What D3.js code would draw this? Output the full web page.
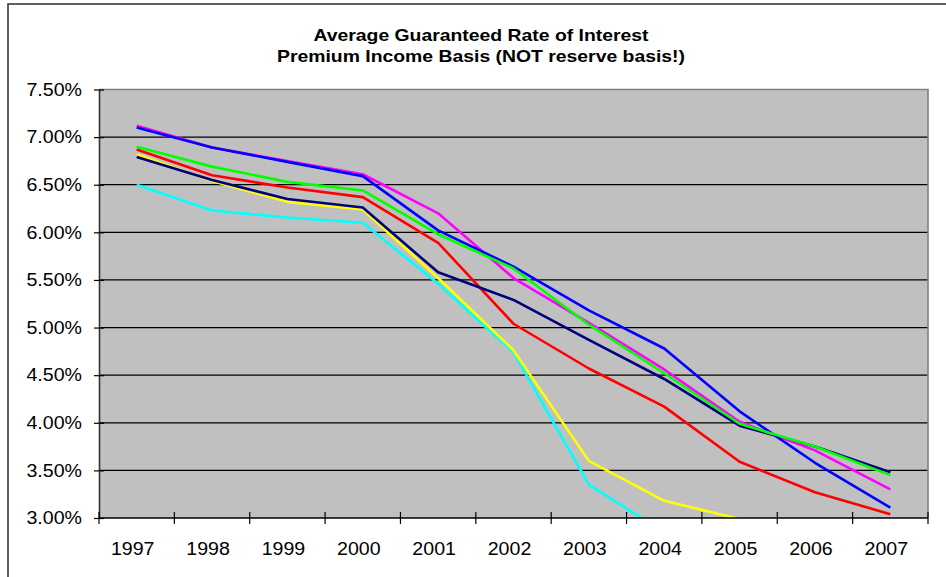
<!DOCTYPE html>
<html>
<head>
<meta charset="utf-8">
<script src="https://cdn.jsdelivr.net/npm/d3@7"></script>
<style>
  html, body { margin: 0; padding: 0; background: #fff; }
  svg { display: block; }
  text { font-family: "Liberation Sans", Arial, sans-serif; fill: #000; }
</style>
</head>
<body>
<svg id="chart" width="946" height="577"></svg>
<script>
// Guaranteed rate of interest by year, one array per company line (percent)
const years = ["1997","1998","1999","2000","2001","2002","2003","2004","2005","2006","2007"];
const yTicks = [3.0, 3.5, 4.0, 4.5, 5.0, 5.5, 6.0, 6.5, 7.0, 7.5];
const titleLines = ["Average Guaranteed Rate of Interest", "Premium Income Basis (NOT reserve basis!)"];

const cyanRates    = [6.50, 6.23, 6.155, 6.10, 5.46, 4.74, 3.35, 2.85];
const yellowRates  = [6.82, 6.54, 6.32, 6.24, 5.52, 4.76, 3.60, 3.18, 2.99];
const redRates     = [6.87, 6.60, 6.47, 6.37, 5.89, 5.04, 4.57, 4.17, 3.59, 3.27, 3.04];
const navyRates    = [6.79, 6.55, 6.35, 6.26, 5.58, 5.29, 4.87, 4.46, 3.97, 3.75, 3.48];
const magentaRates = [7.12, 6.89, 6.75, 6.61, 6.20, 5.52, 5.05, 4.56, 4.01, 3.71, 3.30];
const blueRates    = [7.10, 6.89, 6.74, 6.59, 6.02, 5.64, 5.18, 4.78, 4.12, 3.58, 3.11];
const greenRates   = [6.90, 6.69, 6.53, 6.44, 5.98, 5.62, 5.03, 4.52, 3.99, 3.75, 3.45];

// drawn in this order, later lines on top
const series = [
  { values: cyanRates,    color: "#00FFFF" },
  { values: yellowRates,  color: "#FFFF00" },
  { values: redRates,     color: "#FF0000" },
  { values: navyRates,    color: "#000080" },
  { values: magentaRates, color: "#FF00FF" },
  { values: blueRates,    color: "#0000FF" },
  { values: greenRates,   color: "#00FF00" }
];

const svg = d3.select("#chart");
const plot = { left: 99, right: 928, top: 89.5, bottom: 518 };
const textScale = 1.12;

// outer chart frame (runs past the right and bottom edges)
svg.append("rect")
  .attr("x", 8).attr("y", 4).attr("width", 980).attr("height", 620)
  .attr("fill", "#fff").attr("stroke", "#3a3a3a").attr("stroke-width", 1.6);

const x = d3.scaleBand().domain(years).range([plot.left, plot.right]).padding(0);
const y = d3.scaleLinear().domain([3.0, 7.5]).range([plot.bottom, plot.top]);

// plot area background
svg.append("rect")
  .attr("x", plot.left).attr("y", plot.top)
  .attr("width", plot.right - plot.left).attr("height", plot.bottom - plot.top)
  .attr("fill", "#C0C0C0");

// horizontal gridlines
svg.append("g").selectAll("line")
  .data(yTicks.filter(t => t > 3.0 && t < 7.5))
  .join("line")
  .attr("x1", plot.left).attr("x2", plot.right)
  .attr("y1", d => y(d)).attr("y2", d => y(d))
  .attr("stroke", "#000").attr("stroke-width", 1.2);

// plot area border: top and right
svg.append("path")
  .attr("d", `M${plot.left},${plot.top}H${plot.right}V${plot.bottom}`)
  .attr("fill", "none").attr("stroke", "#808080").attr("stroke-width", 1.6);

// data lines, clipped to the plot area
svg.append("clipPath").attr("id", "plotClip")
  .append("rect")
  .attr("x", plot.left).attr("y", plot.top)
  .attr("width", plot.right - plot.left).attr("height", plot.bottom - plot.top);

const line = d3.line()
  .x((d, i) => x(years[i]) + x.bandwidth() / 2)
  .y(d => y(d));

svg.append("g").attr("clip-path", "url(#plotClip)")
  .selectAll("path")
  .data(series)
  .join("path")
  .attr("d", s => line(s.values))
  .attr("fill", "none")
  .attr("stroke", s => s.color)
  .attr("stroke-width", 2.6)
  .attr("stroke-linejoin", "round");

// y axis
const yAxis = svg.append("g")
  .attr("transform", `translate(${plot.left},0)`)
  .call(d3.axisLeft(y).tickValues(yTicks).tickSize(5).tickSizeOuter(0).tickFormat(() => ""));
yAxis.select(".domain").attr("stroke", "#333").attr("stroke-width", 1.6);
yAxis.selectAll(".tick line").attr("stroke", "#000").attr("x1", 5).attr("stroke-width", 1.2);

svg.append("g").selectAll("text")
  .data(yTicks)
  .join("text")
  .attr("transform", d => `translate(82,${y(d) + 6.3}) scale(${textScale},1)`)
  .attr("text-anchor", "end")
  .attr("font-size", "17.5px")
  .text(d => d3.format(".2f")(d) + "%");

// x axis with ticks between categories
const bounds = d3.range(years.length + 1).map(i => plot.left + i * x.step());
svg.append("line")
  .attr("x1", plot.left).attr("x2", plot.right)
  .attr("y1", plot.bottom).attr("y2", plot.bottom)
  .attr("stroke", "#000").attr("stroke-width", 1.6);
svg.append("g").selectAll("line")
  .data(bounds)
  .join("line")
  .attr("x1", d => d).attr("x2", d => d)
  .attr("y1", plot.bottom - 6).attr("y2", plot.bottom + 6)
  .attr("stroke", "#000").attr("stroke-width", 1.2);

svg.append("g").selectAll("text")
  .data(years)
  .join("text")
  .attr("transform", d => `translate(${x(d) + x.bandwidth() / 2 - 4},554.5) scale(${textScale},1)`)
  .attr("text-anchor", "middle")
  .attr("font-size", "17.5px")
  .text(d => d);

// title
svg.append("g").selectAll("text")
  .data(titleLines)
  .join("text")
  .attr("transform", (d, i) => `translate(481,${40.7 + i * 21}) scale(${textScale},1)`)
  .attr("text-anchor", "middle")
  .attr("font-size", "17.3px")
  .attr("font-weight", "bold")
  .text(d => d);
</script>
</body>
</html>
